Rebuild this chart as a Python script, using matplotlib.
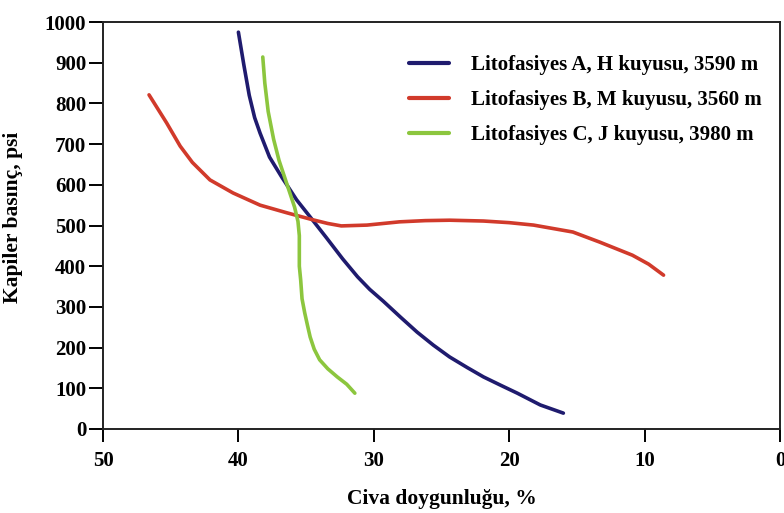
import matplotlib.pyplot as plt
import numpy as np

plt.rcParams['font.family'] = ['Liberation Serif', 'DejaVu Serif']
plt.rcParams['font.weight'] = 'bold'

# Litofasiyes A, H kuyusu, 3590 m
a_x = [40.0, 39.6, 39.2, 38.8, 38.4, 37.7, 36.8, 35.7, 34.7, 33.5, 32.3, 31.2, 30.3, 29.3,
       28.0, 26.8, 25.6, 24.4, 23.1, 21.9, 20.6, 19.4, 17.7, 16.0]
a_y = [975, 895, 820, 765, 727, 668, 619, 563, 521, 470, 418, 374, 343, 314,
       274, 238, 206, 177, 151, 128, 107, 88, 59, 39]

# Litofasiyes B, M kuyusu, 3560 m
b_x = [46.6, 45.3, 44.3, 43.4, 42.1, 40.4, 38.4, 36.4, 34.5, 33.4, 32.4, 30.5, 28.1, 26.2,
       24.4, 21.9, 20.0, 18.2, 15.3, 13.3, 10.9, 9.7, 8.6]
b_y = [821, 752, 695, 655, 612, 580, 550, 531, 514, 505, 499, 501, 509, 512,
       513, 511, 507, 501, 484, 459, 427, 405, 378]

# Litofasiyes C, J kuyusu, 3980 m
c_x = [38.2, 38.05, 37.8, 37.4, 37.0, 36.6, 36.2, 35.85, 35.6, 35.5, 35.5, 35.5, 35.4, 35.3,
       35.1, 34.9, 34.7, 34.4, 34.0, 33.4, 32.7, 32.0, 31.4]
c_y = [914, 850, 780, 712, 660, 620, 580, 545, 510, 475, 440, 400, 366, 320,
       285, 255, 226, 196, 170, 148, 128, 110, 88]

labels = ['Litofasiyes A, H kuyusu, 3590 m',
          'Litofasiyes B, M kuyusu, 3560 m',
          'Litofasiyes C, J kuyusu, 3980 m']

fig = plt.figure(figsize=(7.84, 5.13), dpi=100)
ax = fig.add_axes([103 / 784, 1 - 429 / 513, 677 / 784, 407 / 513])

style = dict(lw=2.6, solid_joinstyle='round', solid_capstyle='round')
ax.plot(a_x, a_y, color='#1f1b6e', label=labels[0], **style)
ax.plot(b_x, b_y, color='#d13a2b', label=labels[1], **style)
ax.plot(c_x, c_y, color='#8cc63e', label=labels[2], **style)

ax.set_xlim(50, 0)
ax.set_ylim(0, 1000)
ax.set_xticks([50, 40, 30, 20, 10, 0])
ax.set_yticks(np.arange(0, 1001, 100))

for s in ax.spines.values():
    s.set_linewidth(1.4)
    s.set_color('#222222')

ax.tick_params(axis='y', direction='out', length=10, width=1.4, labelsize=15, pad=2)
ax.tick_params(axis='x', direction='out', length=9, width=1.4, labelsize=15, pad=7)

ax.set_xlabel('Civa doygunluğu, %', fontsize=15.5, fontweight='bold', labelpad=13)
ax.set_ylabel('Kapiler basınç, psi', fontsize=15.5, fontweight='bold', labelpad=8)
ax.yaxis.set_label_coords(-0.118, 0.52)

leg = ax.legend(loc='upper right', bbox_to_anchor=(1.0, 0.965), frameon=False, fontsize=15,
                handlelength=1.9, handletextpad=1.05, labelspacing=0.72)
for h in leg.get_lines():
    h.set_linewidth(3)

fig.savefig('out.png', dpi=100)
